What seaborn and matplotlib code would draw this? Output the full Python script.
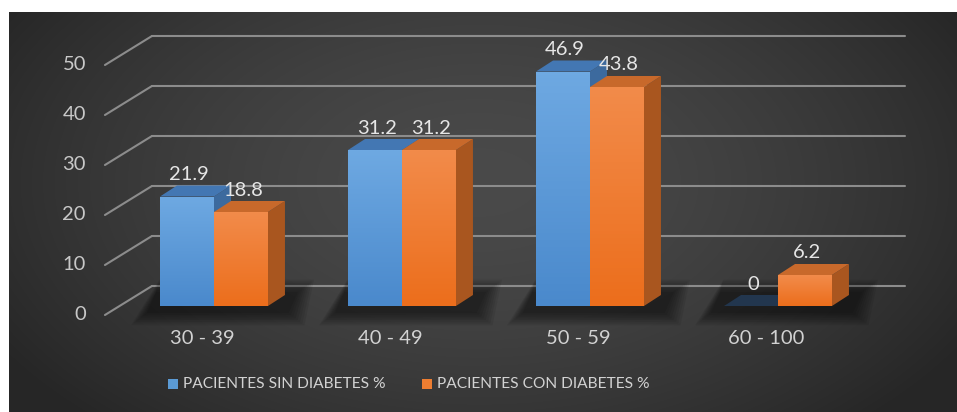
import numpy as np
import pandas as pd
import matplotlib
matplotlib.use("Agg")
import matplotlib.pyplot as plt
from matplotlib.patches import Polygon, Rectangle
from matplotlib.colors import LinearSegmentedColormap
import seaborn as sns

# ---- data ----
categories = ["30 - 39", "40 - 49", "50 - 59", "60 - 100"]
sin_diabetes = [21.9, 31.2, 46.9, 0]
con_diabetes = [18.8, 31.2, 43.8, 6.2]
series_names = ["PACIENTES SIN DIABETES %", "PACIENTES CON DIABETES %"]
y_ticks = [0, 10, 20, 30, 40, 50]

df = pd.DataFrame({
    "grupo": categories * 2,
    "valor": sin_diabetes + con_diabetes,
    "serie": [series_names[0]] * 4 + [series_names[1]] * 4,
})

sns.set_theme(style="white")
plt.rcParams["font.family"] = ["Lato", "DejaVu Sans"]

W, H = 957, 412
fig = plt.figure(figsize=(W / 100, H / 100), dpi=100)
fig.patch.set_facecolor("white")

# dark background panel with a soft radial gradient
bg = fig.add_axes([9 / W, 0, (W - 9) / W, (H - 12) / H], zorder=-5)
gy, gx = np.mgrid[0:400, 0:948]
r = np.sqrt(((gx - 470) / 560.0) ** 2 + ((gy - 170) / 330.0) ** 2)
shade = np.clip(0.29 - 0.14 * r ** 1.6, 0.15, 0.3)
bg.imshow(np.dstack([shade] * 3), aspect="auto", interpolation="bilinear")
bg.axis("off")

ax = fig.add_axes([0, 0, 1, 1], zorder=1)
ax.patch.set_alpha(0)

front_cols = ["#5b9bd5", "#ed7d31"]
sns.barplot(data=df, x="grupo", y="valor", hue="serie", palette=front_cols,
            width=0.574, gap=0, ax=ax, legend=False, saturation=1)

# 3D geometry in data units (category spacing = 1, value units on y)
DX, DY = 17 / 188, 2.2
GRID_BACK, GRID_FRONT = 4.0, -1.8
WALL_L, WALL_R, FRONT_L = -0.33, 3.676, -0.58
FS = 14.5

grid_col = "#8c8c8c"
for t in y_ticks:
    ax.plot([FRONT_L, WALL_L], [t + GRID_FRONT, t + GRID_BACK], color=grid_col, lw=1.5, zorder=1,
            solid_capstyle="round")
    ax.plot([WALL_L, WALL_R], [t + GRID_BACK, t + GRID_BACK], color=grid_col, lw=1.5, zorder=1,
            solid_capstyle="round")
    ax.text(-0.681, t + GRID_FRONT, str(t), ha="right", va="center", fontsize=FS,
            color="#c8c8c8", zorder=5)

top_cols = ["#4377b3", "#c8692b"]
side_cols = ["#3c6a9e", "#a9561f"]
grad_maps = [
    LinearSegmentedColormap.from_list("b", ["#4a89cc", "#6ea9e2"]),
    LinearSegmentedColormap.from_list("o", ["#ec6e1c", "#f28b4a"]),
]

# soft shadows under each group
for i in range(len(categories)):
    x0 = i - 0.287 - 0.02
    x1 = i + 0.287 + DX
    for k in range(8):
        e = 0.012 * k
        ey = 0.35 * k
        poly = Polygon([(x0 - 0.05 - e, -1.4 - ey), (x1 + 0.02 + e, -1.4 - ey),
                        (x1 + 0.07 + e, DY + 0.6 + ey), (x0 + e * 0.2, DY + 0.6 + ey)],
                       closed=True, facecolor="black", edgecolor="none", alpha=0.07, zorder=2)
        ax.add_patch(poly)

z = 3
for i in range(len(categories)):
    for s, cont in enumerate(ax.containers):
        bar = cont.patches[i]
        x0 = bar.get_x()
        w = bar.get_width()
        h = bar.get_height()
        x1 = x0 + w
        # right side face
        side = Polygon([(x1, 0), (x1 + DX, DY), (x1 + DX, h + DY), (x1, h)], closed=True,
                       facecolor=side_cols[s], edgecolor="none", zorder=z)
        ax.add_patch(side)
        # top face
        tcol = top_cols[s] if h > 0 else "#22364e"
        top = Polygon([(x0, h), (x1, h), (x1 + DX, h + DY), (x0 + DX, h + DY)], closed=True,
                      facecolor=tcol, edgecolor="none", zorder=z + 0.1)
        ax.add_patch(top)
        # front face with vertical gradient
        bar.set_zorder(z + 0.2)
        bar.set_edgecolor("none")
        if h > 0:
            im = ax.imshow(np.linspace(0, 1, 64).reshape(-1, 1), extent=[x0, x1, 0, h],
                           origin="lower", cmap=grad_maps[s], aspect="auto", zorder=z + 0.3)
            im.set_clip_path(bar)
        label = f"{h:g}"
        ax.text(x0 + w / 2 + 0.01, h + 4.4, label, ha="center", va="center", fontsize=FS,
                color="#e6e6e6", zorder=z + 1)
        z += 1

for i, c in enumerate(categories):
    ax.text(i - 0.064, -6.6, c, ha="center", va="center", fontsize=FS, color="#d2d2d2", zorder=20)

ax.set_xlim(-214 / 188, (W - 214) / 188)
ax.set_ylim(-21.2, 61.2)
ax.axis("off")

# legend: colour keys and series names along the bottom
leg_x = [168, 422]
for s, name in enumerate(series_names):
    fig.patches.append(Rectangle((leg_x[s] / W, 1 - 389 / H), 10 / W, 10 / H,
                                 transform=fig.transFigure, facecolor=front_cols[s],
                                 edgecolor="none"))
    fig.text((leg_x[s] + 15) / W, 1 - 384 / H, name, ha="left", va="center", fontsize=11.2,
             color="#d2d2d2")

fig.savefig("out.png", dpi=100)
